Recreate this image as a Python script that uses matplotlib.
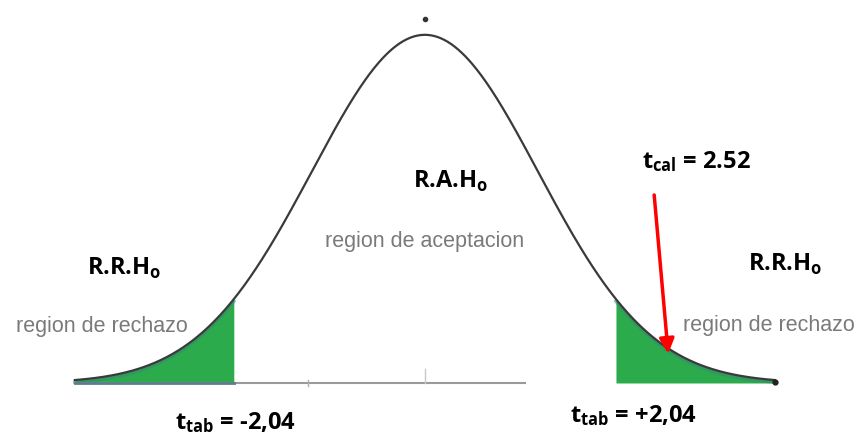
import numpy as np
import matplotlib.pyplot as plt

# values shown on the chart
t_tab = 2.04
t_cal = 2.52
t_range = 3.74          # curve drawn from -t_range to +t_range
spread = 1.21           # width of the drawn bell
labels_reject = "region de rechazo"
label_accept = "region de aceptacion"

plt.rcParams['mathtext.fontset'] = 'custom'
plt.rcParams['mathtext.bf'] = 'Open Sans:bold'
plt.rcParams['mathtext.rm'] = 'Open Sans'

fig = plt.figure(figsize=(8.61, 4.38), dpi=100)
ax = fig.add_axes([0, 0, 1, 1])
ax.set_xlim(-4.54, 4.66)
ax.set_ylim(-0.158, 1.10)
ax.axis('off')

x = np.linspace(-t_range, t_range, 600)
y = np.exp(-x**2 / (2 * spread**2))

# shaded rejection tails
green = '#2bab4b'
left = x <= -t_tab
right = x >= t_tab
ax.fill_between(x[left], 0, y[left], color=green, lw=0)
ax.fill_between(x[right], 0, y[right], color=green, lw=0)
# darker teal shade near the curve
for m in (left, right):
    ax.plot(x[m], y[m] - 0.006, color='#3a8a70', lw=2.5, alpha=0.6)

# baseline
ax.plot([-t_range, 1.07], [0, 0], color='#9a9a9a', lw=1.5)
ax.plot([-t_range, -t_tab], [0, 0], color='#5a7f8a', lw=2)
ax.plot([-1.25, -1.25], [-0.01, 0.01], color='#b0b0b0', lw=1)
ax.plot([0, 0], [0, 0.04], color='#c8c8c8', lw=1)

# curve
ax.plot(x, y, color='#3a3a3a', lw=1.6)
ax.plot([0], [1.045], marker='o', ms=3, color='#333333')
ax.plot([t_range], [0.003], marker='o', ms=3.5, color='#222222')

# texts
bold = dict(fontsize=17, fontweight='bold', family='Open Sans', color='black')
gray = dict(fontsize=15.5, family='Liberation Sans', color='#7a7a7a')

ax.text(-3.61, 0.33, r'R.R.H$_\mathbf{o}$', ha='left', va='center', **bold)
ax.text(3.45, 0.34, r'R.R.H$_\mathbf{o}$', ha='left', va='center', **bold)
ax.text(0.28, 0.58, r'R.A.H$_\mathbf{o}$', ha='center', va='center', **bold)
ax.text(-4.37, 0.163, labels_reject, ha='left', va='center', **gray)
ax.text(2.76, 0.165, labels_reject, ha='left', va='center', **gray)
ax.text(0.0, 0.407, label_accept, ha='center', va='center', **gray)

ax.text(-2.67, -0.115, r'$\mathbf{t_{tab}}$ = -2,04', ha='left', va='center', **bold)
ax.text(1.55, -0.095, r'$\mathbf{t_{tab}}$ = +2,04', ha='left', va='center', **bold)
ax.text(2.32, 0.635, r'$\mathbf{t_{cal}}$ = 2.52', ha='left', va='center', **bold)

# arrow pointing at t_cal
y_tip = np.exp(-t_cal**2 / (2 * spread**2)) - 0.03
ax.annotate('', xy=(t_cal + 0.08, y_tip), xytext=(2.45, 0.54),
            arrowprops=dict(arrowstyle='-|>', color='red', lw=2.5,
                            mutation_scale=22, shrinkA=0, shrinkB=0))

fig.savefig('out.png', dpi=100)
